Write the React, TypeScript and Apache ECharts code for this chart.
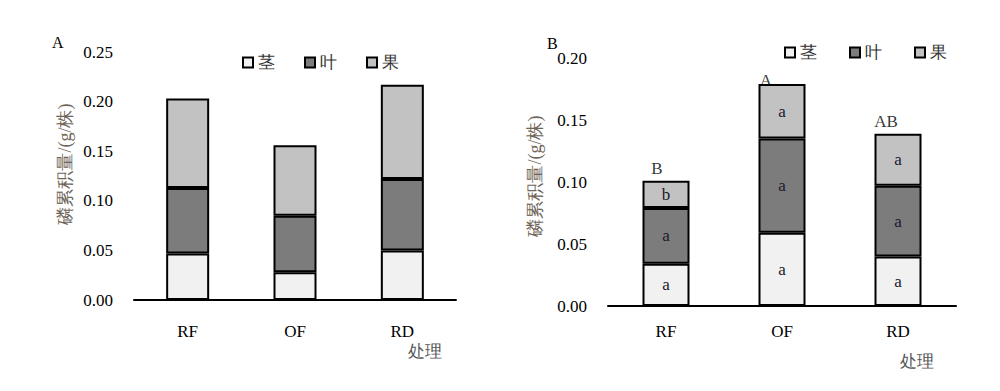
import React, { useEffect, useRef } from "react";
import * as echarts from "echarts";

const categories = ["RF", "OF", "RD"];
const seriesNames = ["茎", "叶", "果"];

// Panel A: stacked segment values (g/株)
const stemA = [0.047, 0.028, 0.05];
const leafA = [0.066, 0.057, 0.072];
const fruitA = [0.09, 0.071, 0.095];

// Panel B
const stemB = [0.034, 0.059, 0.04];
const leafB = [0.045, 0.076, 0.057];
const fruitB = [0.022, 0.044, 0.042];
const stemLetters = ["a", "a", "a"];
const leafLetters = ["a", "a", "a"];
const fruitLetters = ["b", "a", "a"];
const totalLetters = ["B", "A", "AB"];

const yTicksA = [0, 0.05, 0.1, 0.15, 0.2, 0.25];
const yTicksB = [0, 0.05, 0.1, 0.15, 0.2];

const SERIF = "Liberation Serif";
const colors = ["#f1f1f1", "#7c7c7c", "#c2c2c2"];

export default function App() {
  const ref = useRef<HTMLDivElement>(null);
  useEffect(() => {
    if (!ref.current) return;
    const chart = echarts.init(ref.current, undefined, { renderer: "svg" });
    const axisCommon = {
      axisLine: { lineStyle: { color: "#000", width: 2 } },
      axisTick: { inside: true, length: 6, lineStyle: { color: "#000", width: 2 } },
      splitLine: { show: false },
    };
    const itemStyle = (i: number) => ({ color: colors[i], borderColor: "#000", borderWidth: 2 });
    const innerLabel = (letters: string[]) => ({
      show: true,
      position: "inside",
      fontFamily: SERIF,
      fontSize: 17,
      color: "#1a1a2e",
      formatter: (p: any) => letters[p.dataIndex],
    });
    const dataA = [stemA, leafA, fruitA];
    const dataB = [stemB, leafB, fruitB];
    const lettersB = [stemLetters, leafLetters, fruitLetters];
    const totalsB = categories.map((_, i) => stemB[i] + leafB[i] + fruitB[i]);
    const sigOffsets = [[-9, 0], [-16, 9], [-12, 0]];

    const series: any[] = [];
    dataA.forEach((d, i) => {
      series.push({
        type: "bar",
        name: seriesNames[i],
        stack: "A",
        xAxisIndex: 0,
        yAxisIndex: 0,
        barWidth: 43,
        data: d,
        itemStyle: itemStyle(i),
      });
    });
    dataB.forEach((d, i) => {
      series.push({
        type: "bar",
        name: seriesNames[i],
        stack: "B",
        xAxisIndex: 1,
        yAxisIndex: 1,
        barWidth: 47,
        data: d,
        itemStyle: itemStyle(i),
        label: innerLabel(lettersB[i]),
      });
    });
    series.push({
      type: "scatter",
      xAxisIndex: 1,
      yAxisIndex: 1,
      symbolSize: 0,
      silent: true,
      data: totalsB.map((v, i) => ({
        value: v,
        label: {
          show: true,
          position: "top",
          distance: 4,
          offset: sigOffsets[i],
          formatter: totalLetters[i],
          fontFamily: SERIF,
          fontSize: 17,
          color: "#000",
        },
      })),
    });

    const legendCommon = {
      data: seriesNames,
      itemWidth: 10,
      itemHeight: 10,
      icon: "rect",
      textStyle: { fontFamily: SERIF, fontSize: 17, color: "#333" },
    };
    const tickLabel = { fontFamily: SERIF, fontSize: 17, color: "#000", fontWeight: "normal" };

    chart.setOption({
      animation: false,
      textStyle: { fontFamily: SERIF },
      legend: [
        { ...legendCommon, left: 237, top: 49, itemGap: 29 },
        { ...legendCommon, left: 779, top: 39, itemGap: 32 },
      ],
      grid: [
        { left: 134, right: 544, top: 52, bottom: 91 },
        { left: 608, right: 44, top: 58, bottom: 85 },
      ],
      xAxis: [
        {
          type: "category",
          gridIndex: 0,
          data: categories,
          ...axisCommon,
          axisLabel: { ...tickLabel, margin: 23 },
        },
        {
          type: "category",
          gridIndex: 1,
          data: categories,
          ...axisCommon,
          axisLabel: { ...tickLabel, margin: 17 },
        },
      ],
      yAxis: [
        {
          type: "value",
          gridIndex: 0,
          min: yTicksA[0],
          max: yTicksA[yTicksA.length - 1],
          interval: 0.05,
          ...axisCommon,
          axisLabel: { ...tickLabel, margin: 21, formatter: (v: number) => v.toFixed(2) },
        },
        {
          type: "value",
          gridIndex: 1,
          min: yTicksB[0],
          max: yTicksB[yTicksB.length - 1],
          interval: 0.05,
          ...axisCommon,
          axisLabel: { ...tickLabel, margin: 21, formatter: (v: number) => v.toFixed(2) },
        },
      ],
      graphic: [
        { type: "text", left: 52, top: 34, style: { text: "A", fontFamily: SERIF, fontSize: 16, fill: "#000" } },
        { type: "text", left: 547, top: 35, style: { text: "B", fontFamily: SERIF, fontSize: 16, fill: "#000" } },
        {
          type: "text",
          x: 65,
          y: 164,
          rotation: Math.PI / 2,
          style: { text: "磷累积量/(g/株)", fontFamily: SERIF, fontSize: 18, fill: "#6e6457", align: "center", verticalAlign: "middle" },
        },
        {
          type: "text",
          x: 535,
          y: 176,
          rotation: Math.PI / 2,
          style: { text: "磷累积量/(g/株)", fontFamily: SERIF, fontSize: 18, fill: "#6e6457", align: "center", verticalAlign: "middle" },
        },
        { type: "text", left: 408, top: 343, style: { text: "处理", fontFamily: SERIF, fontSize: 17, fill: "#555" } },
        { type: "text", left: 900, top: 353, style: { text: "处理", fontFamily: SERIF, fontSize: 17, fill: "#555" } },
      ],
      series,
    });
    return () => chart.dispose();
  }, []);
  return <div ref={ref} style={{ position: "absolute", left: 0, top: 0, width: 1000, height: 391 }} />;
}
